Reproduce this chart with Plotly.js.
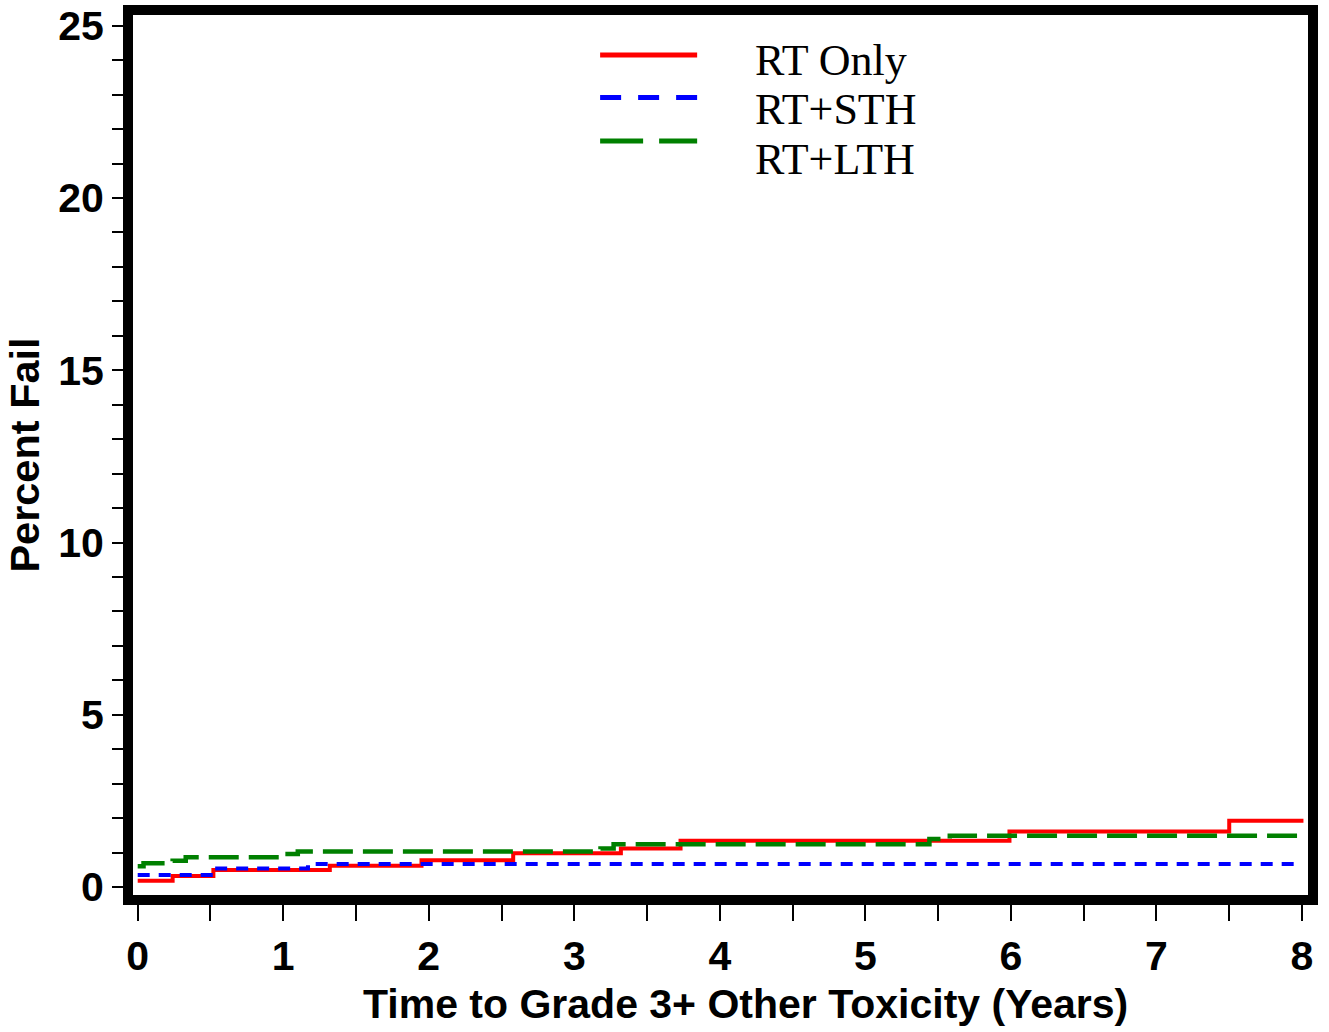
<!DOCTYPE html>
<html>
<head>
<meta charset="utf-8">
<script src="https://cdn.plot.ly/plotly-3.0.1.min.js"></script>
<style>html,body{margin:0;padding:0;background:#fff;}#chart{width:1329px;height:1032px;}</style>
</head>
<body>
<div id="chart"></div>
<script>
// ---- data ----
const seriesNames = ["RT Only", "RT+STH", "RT+LTH"];
const rtOnlyYears = [0, 0.24, 0.52, 1.32, 1.95, 2.58, 3.32, 3.73, 5.99, 7.50, 8.01];
const rtOnlyFail  = [0.18, 0.32, 0.49, 0.62, 0.78, 0.98, 1.12, 1.34, 1.61, 1.92, 1.92];
const rtSthYears  = [0, 0.52, 1.17, 7.98];
const rtSthFail   = [0.35, 0.54, 0.67, 0.67];
const rtLthYears  = [0, 0.04, 0.24, 0.33, 1.03, 1.10, 3.18, 3.27, 5.44, 5.58, 8.0];
const rtLthFail   = [0.60, 0.69, 0.76, 0.86, 0.96, 1.03, 1.12, 1.24, 1.39, 1.49, 1.49];
const xTickVals = [0, 1, 2, 3, 4, 5, 6, 7, 8];
const yTickVals = [0, 5, 10, 15, 20, 25];
const xTitle = "Time to Grade 3+ Other Toxicity (Years)";
const yTitle = "Percent Fail";

// ---- layout geometry (pixels) ----
const W = 1329, H = 1032;
const L = 133, R = 1307.7, T = 15, B = 895;
const pw = R - L, ph = B - T;
const px = v => (v - L) / pw;
const py = v => (B - v) / ph;

const colors = ["#ff0000", "#0000ff", "#008000"];
const sansBold = {family: "Liberation Sans, Arial, sans-serif", color: "#000", weight: "bold"};

const traces = [
  {x: rtOnlyYears, y: rtOnlyFail, name: seriesNames[0], mode: "lines",
   line: {shape: "hv", color: colors[0], width: 4}},
  {x: rtSthYears, y: rtSthFail, name: seriesNames[1], mode: "lines",
   line: {shape: "hv", color: colors[1], width: 4, dash: "12px,9px"}},
  {x: rtLthYears, y: rtLthFail, name: seriesNames[2], mode: "lines",
   line: {shape: "hv", color: colors[2], width: 4.5, dash: "30px,10px"}}
];

// custom legend
const legLineY = [55, 97.5, 141];
const legTextY = [61, 110, 159];
const legDash = ["solid", "21px,17px", "43px,16px"];
const shapes = [], annotations = [];
for (let i = 0; i < 3; i++) {
  shapes.push({type: "line", xref: "paper", yref: "paper",
    x0: px(600), x1: px(697), y0: py(legLineY[i]), y1: py(legLineY[i]),
    line: {color: colors[i], width: 5, dash: legDash[i]}});
  annotations.push({xref: "paper", yref: "paper", x: px(753), y: py(legTextY[i]),
    xanchor: "left", yanchor: "middle", showarrow: false, text: seriesNames[i],
    font: {family: "Liberation Serif, Times New Roman, serif", size: 44, color: "#000"}});
}
// x-axis title (placed to match reference offset)
annotations.push({xref: "paper", yref: "paper", x: px(745), y: py(1004),
  xanchor: "center", yanchor: "middle", showarrow: false, text: xTitle,
  font: Object.assign({size: 41}, sansBold)});

const layout = {
  width: W, height: H,
  margin: {l: L, r: W - R, t: T, b: H - B, pad: 0},
  paper_bgcolor: "#fff", plot_bgcolor: "#fff",
  showlegend: false,
  xaxis: {
    range: [(L - 137.7) / 145.5, (R - 137.7) / 145.5],
    tickvals: xTickVals, ticktext: xTickVals.map(String),
    ticks: "outside", ticklen: 16, tickwidth: 2, tickcolor: "#000",
    minor: {dtick: 0.5, tick0: 0, ticks: "outside", ticklen: 16, tickwidth: 2, tickcolor: "#000"},
    showline: true, linewidth: 10, linecolor: "#000", mirror: true,
    showgrid: false, zeroline: false,
    tickfont: Object.assign({size: 41}, sansBold)
  },
  yaxis: {
    range: [(887 - B) / 34.45, (887 - T) / 34.45],
    tickvals: yTickVals, ticktext: yTickVals.map(String),
    ticks: "outside", ticklen: 11, tickwidth: 2, tickcolor: "#000",
    minor: {dtick: 1, tick0: 0, ticks: "outside", ticklen: 11, tickwidth: 2, tickcolor: "#000"},
    showline: true, linewidth: 10, linecolor: "#000", mirror: true,
    showgrid: false, zeroline: false,
    tickfont: Object.assign({size: 41}, sansBold),
    title: {text: yTitle, font: Object.assign({size: 41.5}, sansBold), standoff: 10}
  },
  shapes: shapes,
  annotations: annotations
};

Plotly.newPlot("chart", traces, layout, {staticPlot: true, displayModeBar: false});
</script>
</body>
</html>
